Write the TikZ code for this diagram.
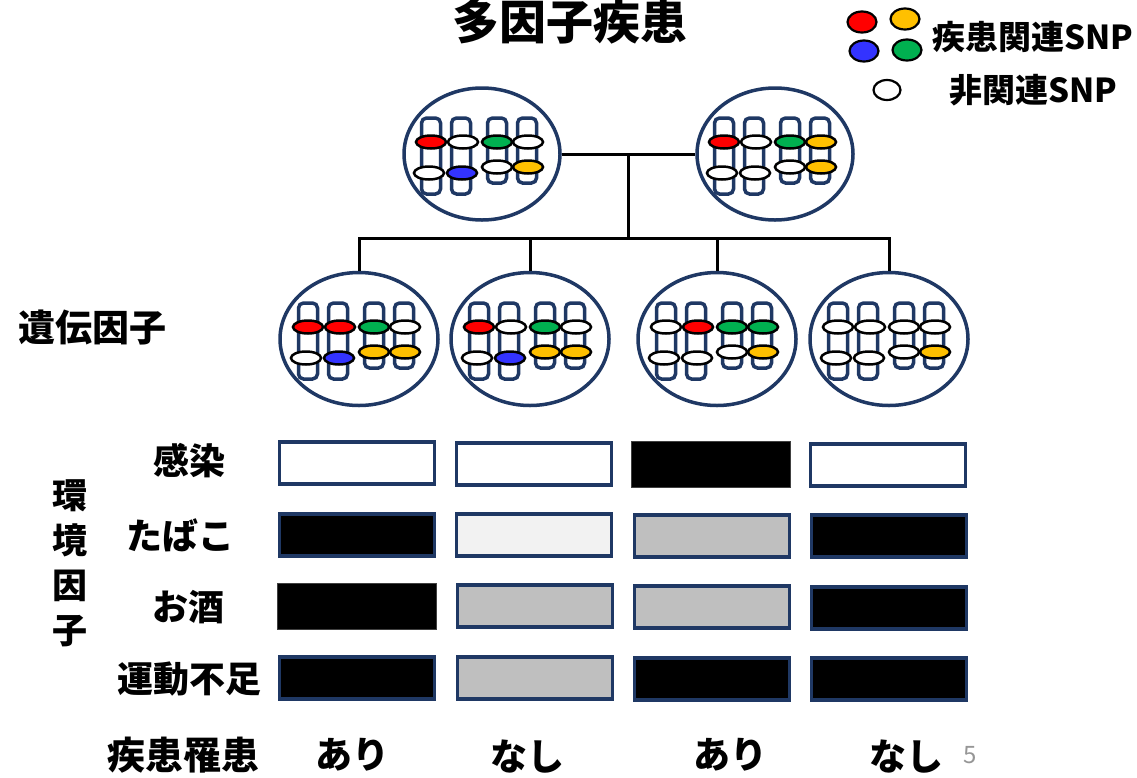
\documentclass[tikz,border=0pt]{standalone}
\usepackage{fontspec}
\setmainfont{Noto Sans CJK JP}
\usetikzlibrary{shapes.geometric}

\definecolor{navy}{RGB}{31,56,100}
\definecolor{snpred}{RGB}{255,0,0}
\definecolor{snpblue}{RGB}{51,51,255}
\definecolor{snpgreen}{RGB}{0,176,80}
\definecolor{snpyellow}{RGB}{255,192,0}
\definecolor{lightfill}{RGB}{242,242,242}
\definecolor{midfill}{RGB}{191,191,191}
\definecolor{pagegray}{RGB}{150,150,150}

% four chromosomes inside a cell: #1 centre, #2-#5 upper SNPs, #6-#9 lower SNPs
\newcommand\chromset[9]{%
  \begin{scope}[shift={(#1)}]
    \foreach \bx/\bb in {-51/40,-21/40,15/29,45/29}
      \draw[chrombar] (\bx-9.5,-36) rectangle (\bx+9.5,\bb);
    \draw[snp,fill=#2] (-51,-12) ellipse [x radius=15pt,y radius=6.5pt];
    \draw[snp,fill=#3] (-19,-12) ellipse [x radius=15pt,y radius=6.5pt];
    \draw[snp,fill=#4] (15,-12) ellipse [x radius=15pt,y radius=6.5pt];
    \draw[snp,fill=#5] (46,-12) ellipse [x radius=15pt,y radius=6.5pt];
    \draw[snp,fill=#6] (-53,19) ellipse [x radius=15pt,y radius=6.5pt];
    \draw[snp,fill=#7] (-20,19) ellipse [x radius=15pt,y radius=6.5pt];
    \draw[snp,fill=#8] (15,13) ellipse [x radius=15pt,y radius=6.5pt];
    \draw[snp,fill=#9] (46,13) ellipse [x radius=15pt,y radius=6.5pt];
  \end{scope}}

\begin{document}
\begin{tikzpicture}[x=1pt,y=-1pt,
  chrombar/.style={draw=navy,line width=3.5pt,fill=white,rounded corners=5pt},
  snp/.style={draw=black,line width=2.5pt},
  cell/.style={ellipse,draw=navy,line width=3.5pt,fill=white,minimum width=156pt,minimum height=132pt,inner sep=0pt},
  link/.style={draw=black,line width=3pt},
  envbox/.style={draw=navy,line width=3.5pt,minimum width=155pt,minimum height=42pt,inner sep=0pt},
  plainbox/.style={draw=black!75,line width=1pt,fill=black,minimum width=159pt,minimum height=46pt,inner sep=0pt},
  lbl/.style={font=\bfseries\fontsize{36}{36}\selectfont,inner sep=0pt},
  legsnp/.style={draw=black,line width=2.2pt}]
\useasboundingbox (0,0) rectangle (1137,777);

% title
\node[font=\bfseries\fontsize{47}{47}\selectfont,inner sep=0pt] (title) at (570,22) {多因子疾患};

% legend
\draw[legsnp,fill=snpred] (862,22) ellipse [x radius=14.5pt,y radius=10.5pt];
\draw[legsnp,fill=snpyellow] (905,19) ellipse [x radius=14.5pt,y radius=10.5pt];
\draw[legsnp,fill=snpblue] (864,51) ellipse [x radius=14.5pt,y radius=10.5pt];
\draw[legsnp,fill=snpgreen] (907,50) ellipse [x radius=14.5pt,y radius=10.5pt];
\draw[legsnp,fill=white] (887,90) ellipse [x radius=13.5pt,y radius=10pt];
\node[font=\bfseries\fontsize{33}{33}\selectfont,inner sep=0pt,anchor=west] (legA) at (932,37) {疾患関連SNP};
\node[font=\bfseries\fontsize{33}{33}\selectfont,inner sep=0pt,anchor=west] (legB) at (949,90) {非関連SNP};

% parents
\node[cell] (p1) at (482,154) {};
\node[cell] (p2) at (775,154) {};
% children
\node[cell,minimum width=158pt,minimum height=133pt] (c1) at (359,339) {};
\node[cell,minimum width=158pt,minimum height=133pt] (c2) at (530,339) {};
\node[cell,minimum width=158pt,minimum height=133pt] (c3) at (717,339) {};
\node[cell,minimum width=158pt,minimum height=133pt] (c4) at (889,339) {};

% chromosomes
\chromset{p1.center}{snpred}{white}{snpgreen}{white}{white}{snpblue}{white}{snpyellow}
\chromset{p2.center}{snpred}{white}{snpgreen}{snpyellow}{white}{white}{white}{snpyellow}
\chromset{c1.center}{snpred}{snpred}{snpgreen}{white}{white}{snpblue}{snpyellow}{snpyellow}
\chromset{c2.center}{snpred}{white}{snpgreen}{white}{white}{snpblue}{snpyellow}{snpyellow}
\chromset{c3.center}{white}{snpred}{snpgreen}{snpgreen}{white}{white}{white}{snpyellow}
\chromset{c4.center}{white}{white}{white}{white}{white}{white}{white}{snpyellow}

% pedigree lines
\coordinate (bus) at (628,238);
\draw[link] (p1.east) -- (p2.west);
\draw[link] (bus) -- (bus |- p1.east);
\draw[link] (c1.north) |- (bus) -| (c4.north);
\draw[link] (bus) -| (c2.north);
\draw[link] (bus) -| (c3.north);

% genetic factor label
\node[lbl,font=\bfseries\fontsize{37}{37}\selectfont] (gen) at (92,328) {遺伝因子};

% environmental factor labels
\node[lbl,align=center,font=\bfseries\fontsize{35}{45}\selectfont] (env) at (70,563) {環\\境\\因\\子};
\node[lbl] (inf) at (189,461) {感染};
\node[lbl] (tob) at (180,535) {たばこ};
\node[lbl] (alc) at (188,607) {お酒};
\node[lbl] (exe) at (189,679) {運動不足};

% environmental factor grid
\node[envbox,fill=white] (r11) at (357,463) {};
\node[envbox,fill=white] (r12) at (534,464) {};
\node[plainbox] (r13) at (711,464) {};
\node[envbox,fill=white] (r14) at (888,465) {};

\node[envbox,fill=black] (r21) at (357,535) {};
\node[envbox,fill=lightfill] (r22) at (534,535) {};
\node[envbox,fill=midfill] (r23) at (712,536) {};
\node[envbox,fill=black] (r24) at (889,536) {};

\node[plainbox] (r31) at (357,606) {};
\node[envbox,fill=midfill] (r32) at (535,606) {};
\node[envbox,fill=midfill] (r33) at (712,607) {};
\node[envbox,fill=black] (r34) at (889,608) {};

\node[envbox,fill=black] (r41) at (357,678) {};
\node[envbox,fill=midfill] (r42) at (535,678) {};
\node[envbox,fill=black] (r43) at (712,679) {};
\node[envbox,fill=black] (r44) at (889,679) {};

% outcome row
\node[lbl,font=\bfseries\fontsize{38}{38}\selectfont] (dis) at (183,755) {疾患罹患};
\node[lbl,font=\bfseries\fontsize{37}{37}\selectfont] (o1) at (352,755) {あり};
\node[lbl,font=\bfseries\fontsize{37}{37}\selectfont] (o2) at (527,757) {なし};
\node[lbl,font=\bfseries\fontsize{37}{37}\selectfont] (o3) at (730,755) {あり};
\node[lbl,font=\bfseries\fontsize{37}{37}\selectfont] (o4) at (906,757) {なし};
\node[font=\fontsize{24}{24}\selectfont,text=pagegray,inner sep=0pt] (page) at (970,755) {5};
\end{tikzpicture}
\end{document}
